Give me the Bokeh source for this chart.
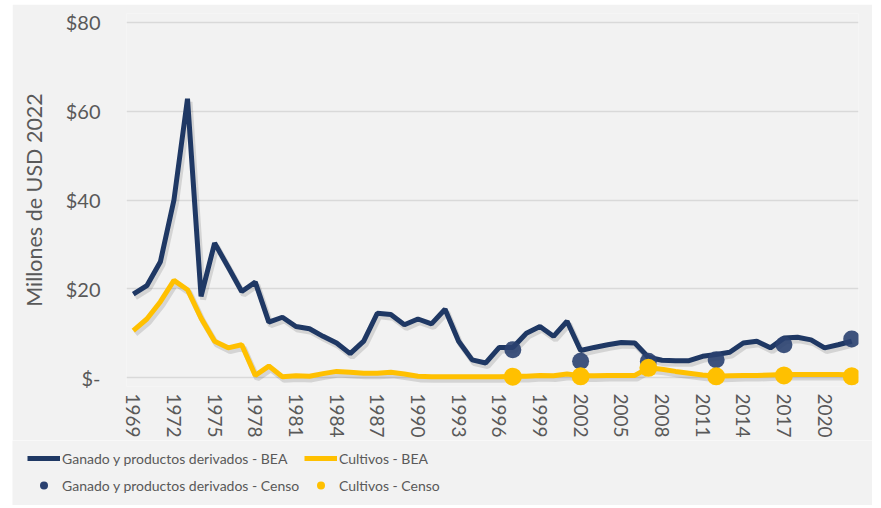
from bokeh.plotting import figure
from bokeh.layouts import column, row
from bokeh.models import ColumnDataSource, FixedTicker, Legend, LegendItem, Range1d, Spacer
from bokeh.transform import dodge
from bokeh.embed import file_html
from bokeh.resources import INLINE

# ---- data ----
years = list(range(1969, 2023))
ganado_bea = [18.8, 20.7, 26.1, 40.0, 62.8, 18.3, 30.3, 24.9, 19.4, 21.5,
              12.5, 13.6, 11.5, 11.0, 9.3, 7.8, 5.4, 8.2, 14.5, 14.2,
              11.9, 13.2, 12.1, 15.4, 8.2, 4.0, 3.3, 6.8, 6.8, 10.0,
              11.5, 9.3, 12.7, 6.1, 6.8, 7.4, 7.9, 7.8, 4.6, 3.9,
              3.8, 3.8, 4.8, 5.2, 5.7, 7.8, 8.2, 6.7, 8.9, 9.1,
              8.5, 6.7, 7.4, 8.2]
cultivos_bea = [10.6, 13.2, 17.1, 21.9, 19.8, 13.4, 8.2, 6.7, 7.4, 0.5,
                2.6, 0.2, 0.4, 0.3, 0.9, 1.4, 1.2, 1.0, 1.0, 1.2,
                0.8, 0.3, 0.2, 0.2, 0.2, 0.2, 0.2, 0.2, 0.3, 0.3,
                0.5, 0.4, 0.8, 0.4, 0.4, 0.5, 0.5, 0.5, 2.2, 1.9,
                1.4, 1.0, 0.6, 0.3, 0.4, 0.5, 0.5, 0.6, 0.7, 0.7,
                0.7, 0.7, 0.7, 0.6]
censo_years = [1997, 2002, 2007, 2012, 2017, 2022]
ganado_censo = [6.3, 3.7, 3.7, 4.0, 7.4, 8.7]
cultivos_censo = [0.2, 0.3, 2.2, 0.3, 0.5, 0.3]

series_names = ["Ganado y productos derivados - BEA", "Cultivos - BEA",
                "Ganado y productos derivados - Censo", "Cultivos - Censo"]

y_ticks = [0, 20, 40, 60, 80]
y_tick_labels = ["$-", "$20", "$40", "$60", "$80"]
x_ticks = list(range(1969, 2021, 3))
x_tick_labels = [str(t) for t in x_ticks]

NAVY = "#1f3864"
NAVY_DOT = "#2a4170"
GOLD = "#ffc000"
TXT = "#595959"
BG = "#f2f2f2"

src = ColumnDataSource(dict(x=years, g=ganado_bea, c=cultivos_bea))
csrc = ColumnDataSource(dict(x=censo_years, g=ganado_censo, c=cultivos_censo))

p = figure(width=860, height=436, output_backend="svg", toolbar_location=None,
           x_range=Range1d(1968.5, 2022.5), y_range=Range1d(-2, 82),
           min_border_left=114, min_border_right=14, min_border_top=9,
           min_border_bottom=53)
p.frame_align = False
p.background_fill_color = BG
p.border_fill_color = BG
p.outline_line_color = None

# grid
p.xgrid.grid_line_color = None
p.ygrid.ticker = FixedTicker(ticks=y_ticks)
p.ygrid.grid_line_color = "#d9d9d9"
p.ygrid.grid_line_width = 1.5

# axes
p.yaxis.ticker = FixedTicker(ticks=y_ticks)
p.yaxis.major_label_overrides = dict(zip(y_ticks, y_tick_labels))
p.xaxis.ticker = FixedTicker(ticks=x_ticks)
p.xaxis.major_label_overrides = dict(zip(x_ticks, x_tick_labels))
p.xaxis.major_label_orientation = "vertical"
for ax in (p.xaxis, p.yaxis):
    ax.axis_line_color = None
    ax.major_tick_line_color = None
    ax.minor_tick_line_color = None
    ax.major_tick_out = 0
    ax.major_label_text_color = TXT
    ax.major_label_text_font = "Lato"
    ax.major_label_text_font_size = "20px"
p.xaxis.major_label_text_font_size = "19px"
p.yaxis.major_label_standoff = 26
p.xaxis.major_label_standoff = 7
p.yaxis.axis_label = "Millones de USD 2022"
p.yaxis.axis_label_text_font = "Lato"
p.yaxis.axis_label_text_font_style = "normal"
p.yaxis.axis_label_text_font_size = "21.5px"
p.yaxis.axis_label_text_color = TXT
p.yaxis.axis_label_standoff = 16

# shadows
for col in ("g", "c"):
    p.line(x=dodge("x", 0.15), y=dodge(col, -0.7), source=src,
           line_color="black", line_alpha=0.12, line_width=6)

p.line(x="x", y="g", source=src, line_color=NAVY, line_width=5)
p.line(x="x", y="c", source=src, line_color=GOLD, line_width=5)
p.scatter(x="x", y="g", source=csrc, size=17, fill_color=NAVY_DOT,
          fill_alpha=0.9, line_color=None)
p.scatter(x="x", y="c", source=csrc, size=18, fill_color=GOLD,
          line_color=None)

# ---- legend strip (separate figure, same background; its data lie outside its view) ----
lp = figure(width=860, height=65, output_backend="svg", toolbar_location=None,
            x_range=Range1d(0, 1), y_range=Range1d(0, 1),
            x_axis_location=None, y_axis_location=None,
            min_border=0, min_border_left=0, min_border_right=0,
            min_border_top=0, min_border_bottom=0)
lp.frame_align = False
lp.grid.visible = False
lp.background_fill_color = BG
lp.border_fill_color = BG
lp.outline_line_color = None
l_g = lp.line(x="x", y="g", source=src, line_color=NAVY, line_width=5)
l_c = lp.line(x="x", y="c", source=src, line_color=GOLD, line_width=5)
l_gc = lp.scatter(x="x", y="g", source=csrc, size=17, fill_color=NAVY_DOT,
                  line_color=None)
l_cc = lp.scatter(x="x", y="c", source=csrc, size=18, fill_color=GOLD,
                  line_color=None)

def make_legend(items, loc):
    lg = Legend(items=items, location=loc, orientation="vertical")
    lg.glyph_width = 33
    lg.glyph_height = 20
    lg.label_height = 20
    lg.spacing = 7
    lg.padding = 0
    lg.margin = 0
    lg.label_standoff = 2
    lg.border_line_color = None
    lg.background_fill_alpha = 0
    lg.label_text_font = "Lato"
    lg.label_text_font_size = "14px"
    lg.label_text_color = TXT
    return lg

leg_a = make_legend([LegendItem(label=series_names[0], renderers=[l_g]),
                     LegendItem(label=series_names[2], renderers=[l_gc])], (15, 10))
leg_b = make_legend([LegendItem(label=series_names[1], renderers=[l_c]),
                     LegendItem(label=series_names[3], renderers=[l_cc])], (292, 10))
lp.add_layout(leg_a, "center")
lp.add_layout(leg_b, "center")

layout = row(Spacer(width=12), column(Spacer(height=4), p, lp, spacing=0), spacing=0)
open("out.html", "w").write(file_html(layout, INLINE))
